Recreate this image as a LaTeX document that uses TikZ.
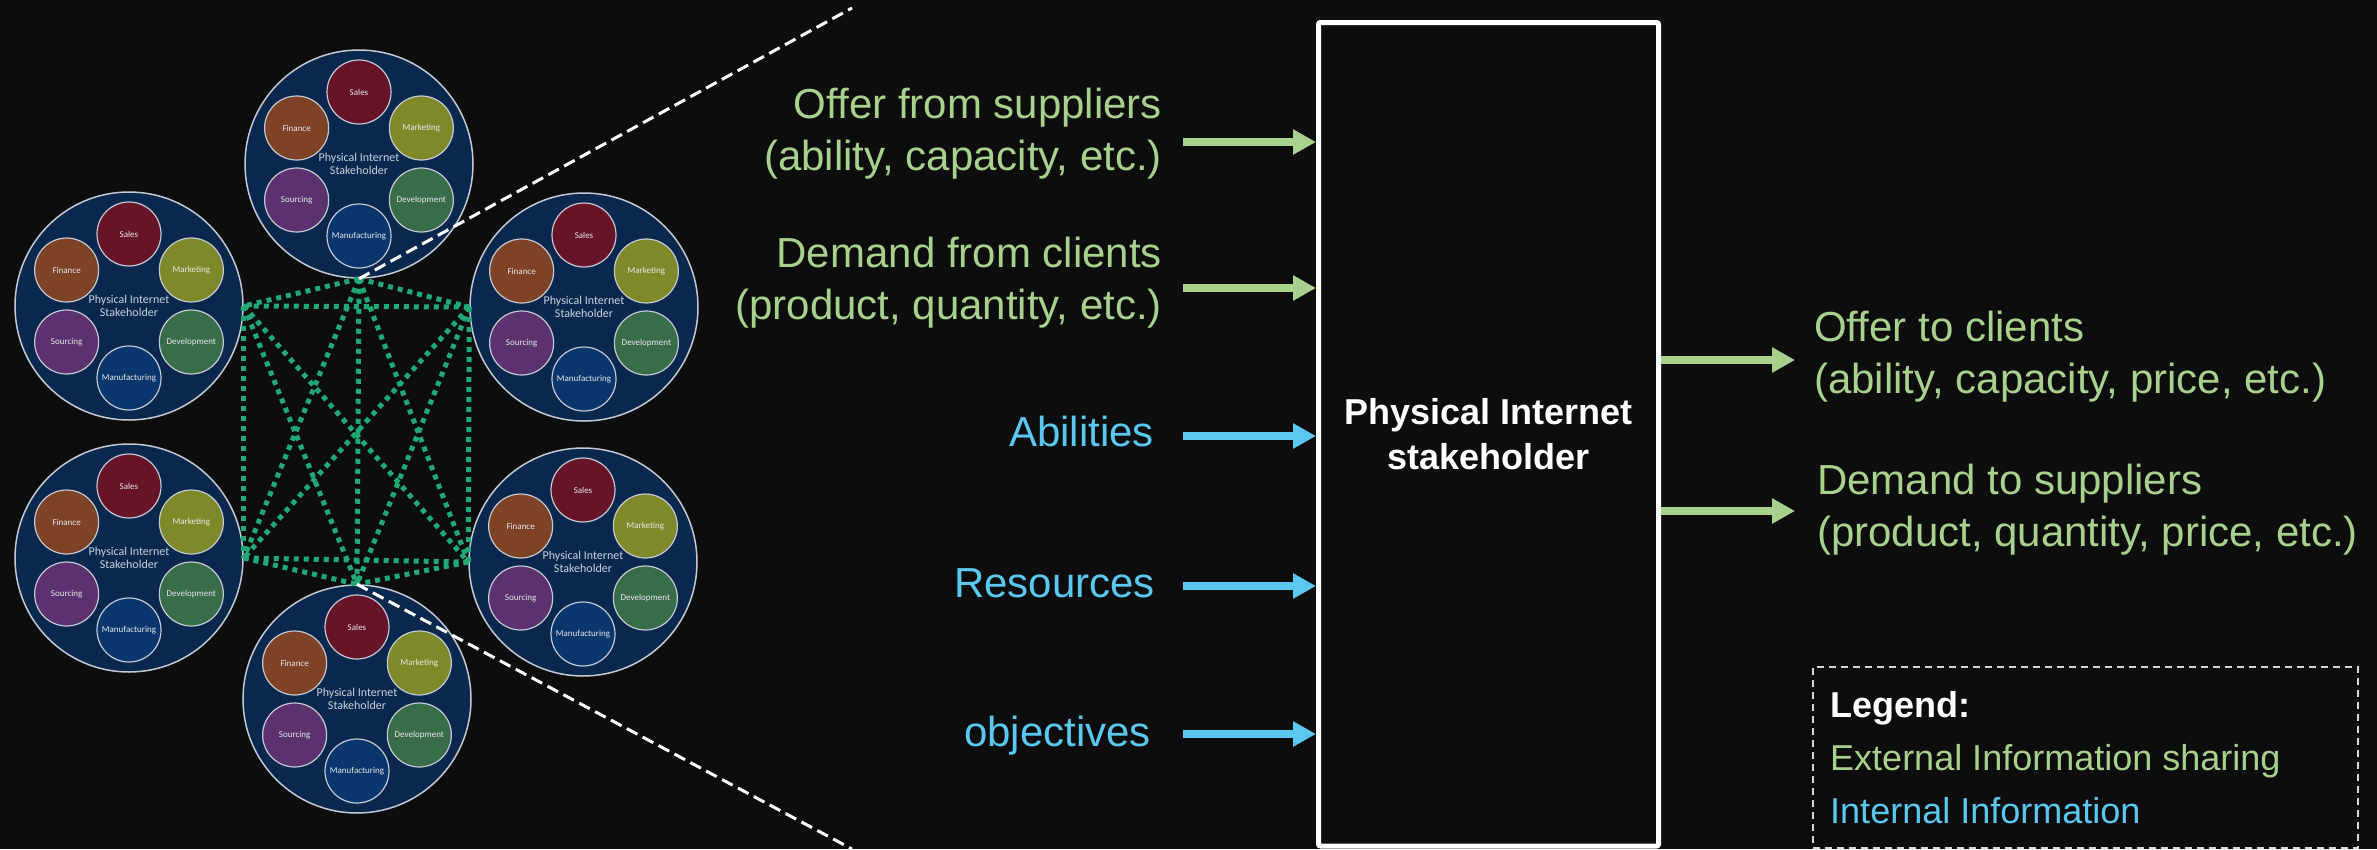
\documentclass[tikz,border=0pt]{standalone}
\usepackage{fontspec}
\setmainfont{Liberation Sans}
\newfontfamily\calfont{Carlito}
\usetikzlibrary{
	calc,          %计算
	positioning,   %定位
	arrows.meta    %箭头
}
\definecolor{bg}{HTML}{0D0D0D}
\definecolor{pigreen}{HTML}{A9D18E}
\definecolor{piblue}{HTML}{5BC8F0}
\definecolor{linkgreen}{RGB}{33,168,119}
\definecolor{navy}{RGB}{10,40,78}
\definecolor{rimgray}{RGB}{195,200,210}
\definecolor{sales}{RGB}{103,19,40}
\definecolor{fin}{RGB}{126,66,38}
\definecolor{mkt}{RGB}{127,137,42}
\definecolor{dev}{RGB}{57,108,72}
\definecolor{manu}{RGB}{10,54,110}
\definecolor{src}{RGB}{91,50,110}
\tikzset{
	every picture/.style={x=1pt,y=-1pt},
	stake/.style={circle, draw=rimgray, line width=1.5pt, fill=navy,
		minimum size=228pt, inner sep=0pt, align=center,
		text={rgb,255:red,200;green,210;blue,225},
		font=\calfont\fontsize{12}{13.5}\selectfont},
	dept/.style={circle, draw=rimgray, line width=1.2pt, minimum size=64pt,
		inner sep=0pt, text={rgb,255:red,232;green,232;blue,232},
		font=\calfont\fontsize{9}{10}\selectfont},
	link/.style={linkgreen, line width=5pt, dash pattern=on 5pt off 5pt},
	zoomline/.style={white, line width=3pt, dash pattern=on 12pt off 6pt},
	pibox/.style={draw=white, line width=5pt, fill=bg, rounded corners=2pt,
		minimum width=340pt, minimum height=823.5pt, text=white, align=center,
		font=\bfseries\fontsize{36}{45}\selectfont},
	ext/.style={text=pigreen, inner sep=0pt, font=\fontsize{42}{52}\selectfont},
	int/.style={text=piblue, inner sep=0pt, font=\fontsize{42}{52}\selectfont},
	extarrow/.style={pigreen, line width=8pt, -{Triangle[length=23pt,width=24pt]}},
	intarrow/.style={piblue, line width=8pt, -{Triangle[length=23pt,width=24pt]}},
	legendbox/.style={draw={rgb,255:red,215;green,215;blue,215}, line width=2pt,
		dash pattern=on 7pt off 5pt, inner sep=0pt, outer sep=0pt,
		minimum width=545pt, minimum height=181pt}
}

\begin{document}
\begin{tikzpicture}
\useasboundingbox (0,0) rectangle (2377,849);
\fill[bg] (0,0) rectangle (2377,849);
% stakeholder network
\foreach \nm/\cx/\cy in {top/359/164, ul/129/306, ur/584/307, ll/129/558, lr/583/562, bot/357/699}{
	\node[stake] (\nm) at (\cx,\cy) {Physical Internet\\Stakeholder};
	\foreach \dep/\ang/\col in {Sales/-90/sales, Marketing/-30/mkt, Development/30/dev,
		Manufacturing/90/manu, Sourcing/150/src, Finance/210/fin}
		\node[dept, fill=\col] (\nm-\dep) at ($(\nm)+(\ang:72)$) {\dep};
}
\coordinate (jt) at (top.south);
\coordinate (jb) at (bot.north);
\coordinate (jul) at (ul.east);
\coordinate (jur) at (ur.west);
\coordinate (jll) at (ll.east);
\coordinate (jlr) at (lr.west);
\foreach \p/\q in {jt/jul, jt/jur, jt/jll, jt/jlr, jt/jb, jul/jur, jul/jll, jul/jlr,
	jul/jb, jur/jll, jur/jlr, jur/jb, jll/jlr, jll/jb, jlr/jb}
	\draw[link] (\p) -- (\q);
\coordinate (zt) at (852,8);
\coordinate (zb) at (852,849);
\draw[zoomline] (jt) -- (zt);
\draw[zoomline] (jb) -- (zb);
% stakeholder box
\node[pibox] (box) at (1488.5,434.25) {Physical Internet\\stakeholder};
\node[ext, anchor=base east, align=right] (offin) at (1162,170) {Offer from suppliers\\(ability, capacity, etc.)};
\node[ext, anchor=base east, align=right] (demin) at (1162,319) {Demand from clients\\(product, quantity, etc.)};
\node[int, anchor=base east] (abil) at (1154,446) {Abilities};
\node[int, anchor=base east] (res) at (1155,597) {Resources};
\node[int, anchor=base east] (obj) at (1151,746) {objectives};
\foreach \y/\st in {142/extarrow, 288/extarrow, 436/intarrow, 586/intarrow, 734/intarrow}{
	\coordinate (in\y) at (1183,\y);
	\draw[\st] (in\y) -- (in\y -| box.west);
}
\foreach \y in {360,511}{
	\coordinate (out\y) at (1795,\y);
	\draw[extarrow] (out\y -| box.east) -- (out\y);
}
\node[ext, anchor=base west, align=left] (offout) at (1814,393) {Offer to clients\\(ability, capacity, price, etc.)};
\node[ext, anchor=base west, align=left] (demout) at (1817,546) {Demand to suppliers\\(product, quantity, price, etc.)};
% legend
\node[legendbox, anchor=north west] (legend) at (1813,667) {};
\node[anchor=base west, align=left, inner sep=0pt, font=\fontsize{36}{53}\selectfont] (legtxt) at (1830,823)
	{\textcolor{white}{\bfseries Legend:}\\\textcolor{pigreen}{External Information sharing}\\\textcolor{piblue}{Internal Information}};
\end{tikzpicture}
\end{document}
